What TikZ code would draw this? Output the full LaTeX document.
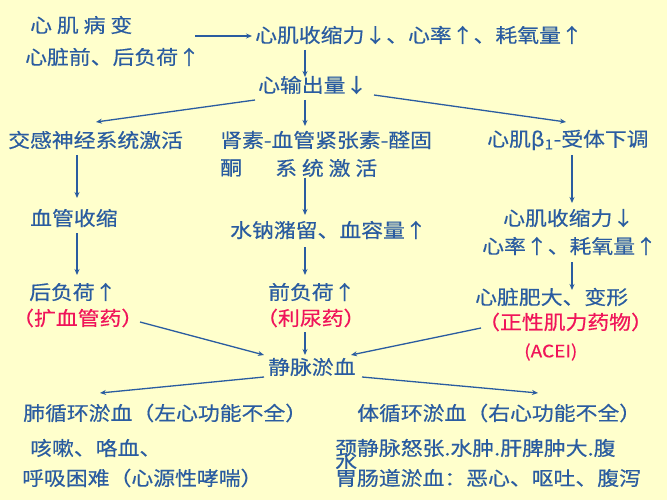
\documentclass[tikz,border=0pt]{standalone}
\usepackage{fontspec}
\setmainfont{Noto Sans CJK SC}[FakeStretch=1.12,FakeBold=0.4]
\definecolor{bg}{HTML}{FFFFCC}
\definecolor{tb}{HTML}{2A5CA0}
\definecolor{tr}{HTML}{F0145A}
\begin{document}
\begin{tikzpicture}[x=1pt,y=-1pt,
  t/.style={anchor=west,inner sep=0pt,text=tb,font=\fontsize{19.5}{21}\selectfont},
  r/.style={t,text=tr},
  ar/.style={draw=tb,line width=1.3pt,-{Stealth[length=6pt,width=5pt]}}]
\usetikzlibrary{arrows.meta}
\fill[bg] (0,0) rectangle (667,500);
\useasboundingbox (0,0) rectangle (667,500);
\node[t] (a1) at (30,25) {心 肌 病 变};
\node[t] (a2) at (25,57) {心脏前、后负荷↑};
\node[t] (b) at (255,35) {心肌收缩力↓、心率↑、耗氧量↑};
\coordinate (s0) at (195,36);
\coordinate (e0) at (252,36);
\draw[ar] (s0) -- (e0);
\node[t] (c) at (258,85) {心输出量↓};
\node[t] (d1) at (8,140) {交感神经系统激活};
\node[t] (d2) at (220,140) {肾素-血管紧张素-醛固};
\node[t] (d2b) at (220,168) {酮};
\node[t] (d2c) at (275,168) {系 统 激 活};
\node[t] (d3) at (487,140) {心肌β\textsubscript{1}-受体下调};
\node[t] (e1) at (30,218) {血管收缩};
\node[t] (e2) at (230,230) {水钠潴留、血容量↑};
\node[t] (e3) at (503,218) {心肌收缩力↓};
\node[t] (e3b) at (482,246) {心率↑、耗氧量↑};
\node[t] (f1) at (29,292) {后负荷↑};
\node[r] (f1r) at (12,318) {（扩血管药）};
\node[t] (f2) at (268,292) {前负荷↑};
\node[r] (f2r) at (256,318) {（利尿药）};
\node[t] (f3) at (475,297) {心脏肥大、变形};
\node[r] (f3r) at (478,322) {（正性肌力药物）};
\node[r,font=\fontsize{17}{19}\selectfont] (f3a) at (524,352) {(ACEI)};
\node[t] (g) at (268,367) {静脉淤血};
\node[t] (h1) at (23,413) {肺循环淤血（左心功能不全）};
\node[t] (h2) at (357,413) {体循环淤血（右心功能不全）};
\node[t] (i1) at (30,448) {咳嗽、咯血、};
\node[t] (i2) at (22,478) {呼吸困难（心源性哮喘）};
\node[t] (j1) at (335,448) {颈静脉怒张.水肿.肝脾肿大.腹};
\node[t] (j0) at (335,462) {水};
\node[t,fill=bg] (j2) at (335,478) {胃肠道淤血：恶心、呕吐、腹泻};
% connectors
\coordinate (b1) at (305,50); \coordinate (b2) at (305,77);
\draw[ar] (b1) -- (b2);
\coordinate (c1) at (255,100); \coordinate (c1e) at (96,122);
\coordinate (c2) at (305,100); \coordinate (c2e) at (305,126);
\coordinate (c3) at (374,95); \coordinate (c3e) at (566,122);
\draw[ar] (c1) -- (c1e); \draw[ar] (c2) -- (c2e); \draw[ar] (c3) -- (c3e);
\coordinate (p1) at (77,155); \coordinate (p1e) at (77,198);
\coordinate (p2) at (305,178); \coordinate (p2e) at (305,215);
\coordinate (p3) at (572,155); \coordinate (p3e) at (572,203);
\draw[ar] (p1) -- (p1e); \draw[ar] (p2) -- (p2e); \draw[ar] (p3) -- (p3e);
\coordinate (q1) at (77,233); \coordinate (q1e) at (77,275);
\coordinate (q2) at (305,247); \coordinate (q2e) at (305,275);
\coordinate (q3) at (572,262); \coordinate (q3e) at (572,290);
\draw[ar] (q1) -- (q1e); \draw[ar] (q2) -- (q2e); \draw[ar] (q3) -- (q3e);
\coordinate (g1) at (140,322); \coordinate (g2) at (305,332); \coordinate (g3) at (481,328);
\coordinate (g1e) at (264,355); \coordinate (g2e) at (305,355); \coordinate (g3e) at (351,355);
\draw[ar] (g1) -- (g1e); \draw[ar] (g2) -- (g2e); \draw[ar] (g3) -- (g3e);
\coordinate (k1) at (264,377); \coordinate (k1e) at (100,393);
\coordinate (k2) at (362,377); \coordinate (k2e) at (538,393);
\draw[ar] (k1) -- (k1e); \draw[ar] (k2) -- (k2e);
\end{tikzpicture}
\end{document}
